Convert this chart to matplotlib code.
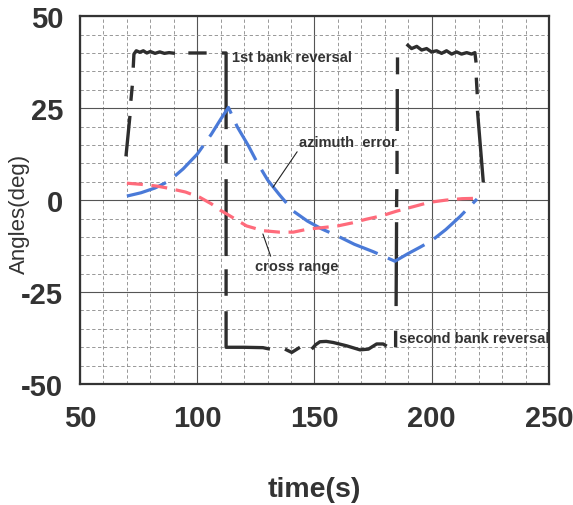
import matplotlib
matplotlib.use('Agg')
import matplotlib.pyplot as plt
import numpy as np
from matplotlib.ticker import MultipleLocator

plt.rcParams['font.family'] = ['Liberation Sans', 'DejaVu Sans']
plt.rcParams['axes.unicode_minus'] = False

nan = np.nan

# bank angle (black), gaps in the drawn line kept as nan
bank_t = [69.6, 71.3, nan, 71.7, 72.3, nan,
          72.7, 73.0, 74.0, 75.5, 77.0, 78.5, 80.0, 82.0, 84.0, 86.0, 88.0, 90.5, nan,
          96.2, 104.0, nan,
          110.4, 112.3, 112.3, nan, 112.3, 112.3, nan, 112.3, 112.3, nan, 112.3, 112.3, nan,
          112.3, 112.3, 120.0, 128.0, 131.0, nan,
          137.4, 140.3, 143.8, nan,
          148.8, 150.5, 152.3, 155.0, 158.0, 163.7, 169.4, 173.0, 176.5, 179.3, 180.8, nan,
          184.6, 184.6, nan, 184.8, 185.0, nan, 185.0, 185.1, nan, 185.2, 185.2, nan,
          185.3, 185.3, nan, 185.4, 185.4, nan,
          189.3, 191.4, 193.6, 195.7, 197.8, 199.9, 202.1, 204.2, 206.3, 208.5, 210.6,
          212.7, 214.9, 217.0, 218.4, 218.9, nan,
          219.0, 219.4, nan, 219.5, 222.0]
bank_deg = [11.9, 22.9, nan, 27.0, 31.1, nan,
            36.0, 39.7, 40.6, 40.2, 40.6, 40.0, 40.4, 39.9, 40.3, 39.9, 40.1, 39.9, nan,
            40.0, 40.0, nan,
            40.0, 40.0, 19.3, nan, 15.0, 10.0, nan, 5.7, -15.2, nan, -18.8, -26.0, nan,
            -30.2, -40.0, -40.0, -40.1, -40.5, nan,
            -40.5, -41.4, -40.0, nan,
            -40.5, -39.3, -38.5, -38.4, -38.7, -39.6, -40.7, -40.5, -39.1, -39.1, -39.7, nan,
            -40.0, -35.5, nan, -28.8, -6.0, nan, -1.9, 3.0, nan, 7.1, 13.4, nan,
            18.8, 30.2, nan, 34.2, 38.8, nan,
            42.4, 41.2, 41.8, 40.8, 41.2, 40.3, 40.6, 39.9, 40.6, 39.7, 40.3,
            39.7, 40.1, 39.7, 40.1, 37.4, nan,
            33.3, 28.8, nan, 24.3, 4.8]

# azimuth error (blue)
az_t = [70, 76, 82, 88, 94, 100, 106, 110, 113.3, 117, 121.8, 125.5, 130, 135, 141,
        147, 153, 160, 167, 175, 184.3, 190, 195, 200, 206, 212, 219.3]
az_deg = [1.1, 2.0, 3.3, 5.2, 8.5, 12.5, 17.9, 22.0, 25.2, 20.0, 14.8, 10.3, 5.5, 1.5, -3.0,
          -5.7, -7.8, -9.8, -12.0, -14.0, -16.6, -14.5, -12.8, -11.0, -8.0, -4.5, 0.3]

# cross range (red)
cr_t = [70, 76, 83, 88, 95, 101, 106, 110, 114, 121, 128, 135, 141, 147, 153, 160,
        166, 172, 179, 185, 192, 199, 206, 213, 219.3]
cr_deg = [4.6, 4.3, 3.8, 3.2, 2.2, 0.8, -1.0, -2.8, -4.3, -7.0, -8.3, -8.7, -8.7, -7.9,
          -7.5, -7.0, -6.2, -5.2, -4.2, -3.0, -1.8, -0.6, 0.0, 0.4, 0.5]

fig = plt.figure(figsize=(5.73, 5.06), dpi=100)
ax = fig.add_axes([0.1396, 0.239, 0.8185, 0.727])

ax.set_xlim(50, 250)
ax.set_ylim(-50, 50)
ax.xaxis.set_major_locator(MultipleLocator(50))
ax.xaxis.set_minor_locator(MultipleLocator(10))
ax.yaxis.set_major_locator(MultipleLocator(25))
ax.yaxis.set_minor_locator(MultipleLocator(5))
ax.grid(which='major', color='#555555', linestyle='-', linewidth=0.8)
ax.grid(which='minor', color='#888888', linestyle=(0, (4, 3)), linewidth=0.6)
ax.set_axisbelow(True)
for s in ax.spines.values():
    s.set_color('#333333')
    s.set_linewidth(1.6)

ax.tick_params(which='both', length=0)
ax.tick_params(axis='y', pad=12, labelsize=21, labelcolor='#333333')
ax.tick_params(axis='x', pad=14, labelsize=21, labelcolor='#333333')
for lab in ax.get_xticklabels() + ax.get_yticklabels():
    lab.set_fontweight('bold')

ax.plot(bank_t, bank_deg, color='#2e2e2e', linewidth=2.4, solid_capstyle='butt')
ax.plot(az_t, az_deg, color='#4a7ad8', linewidth=2.3, dashes=(13, 3.5))
ax.plot(cr_t, cr_deg, color='#ff6b7b', linewidth=2.3, dashes=(5, 2.7))

tc = '#333333'
ax.text(114.8, 38.9, '1st bank reversal', fontsize=10.5, fontweight='bold', color=tc,
        va='center', ha='left')
ax.annotate('azimuth  error', xy=(132.3, 3.5), xytext=(143.4, 15.8), fontsize=10.5,
            fontweight='bold', color=tc, va='center', ha='left',
            arrowprops=dict(arrowstyle='-', color='#222222', lw=0.8, shrinkA=0, shrinkB=0,
                            relpos=(0.0, 0.0)))
ax.annotate('cross range', xy=(128.0, -9.2), xytext=(124.6, -17.9), fontsize=10.5,
            fontweight='bold', color=tc, va='center', ha='left',
            arrowprops=dict(arrowstyle='-', color='#222222', lw=0.8, shrinkA=0, shrinkB=0,
                            relpos=(0.2, 1.0)))
ax.text(186.0, -37.5, 'second bank reversal', fontsize=10.5, fontweight='bold', color=tc,
        va='center', ha='left')

ax.set_xlabel('time(s)', fontsize=20.5, fontweight='bold', color=tc)
ax.xaxis.set_label_coords(0.5, -0.25)
ax.set_ylabel('Angles(deg)', fontsize=16, color=tc)
ax.yaxis.set_label_coords(-0.107, 0.465)

fig.savefig('out.png', dpi=100)
